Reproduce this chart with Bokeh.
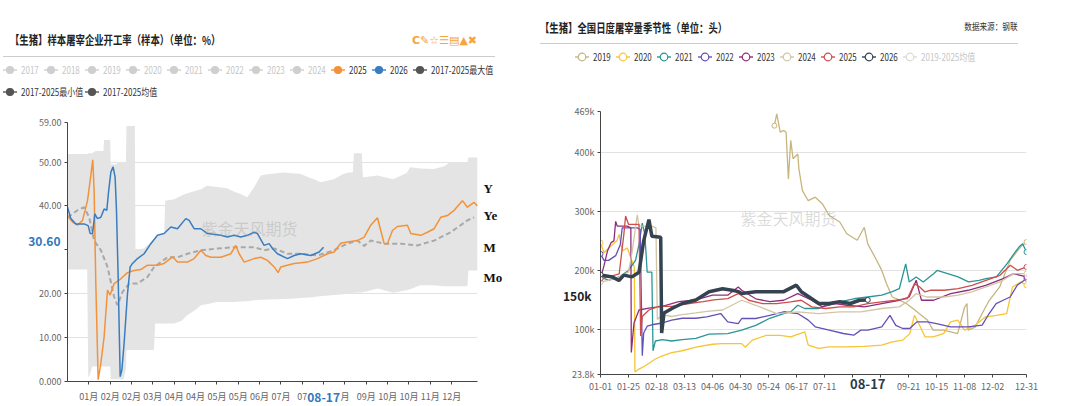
from bokeh.plotting import figure
from bokeh.layouts import row, column
from bokeh.models import Range1d, FixedTicker, Label, LinearAxis, Div
from bokeh.embed import file_html
from bokeh.resources import INLINE

FONT = "Noto Sans CJK SC"

# ---------------- left chart data (开工率 %) ----------------
L_TITLE = "【生猪】样本屠宰企业开工率（样本）（单位：%）"
L_TICK_DAYS = [19, 38, 57, 76, 95, 114, 133, 152, 171, 190, 209, 228, 247, 266, 285, 304, 323, 342]
L_TICK_LABELS = ["01月", "02月", "02月", "03月", "04月", "04月", "05月", "05月", "06月", "07月",
                 "07", "", "月", "09月", "10月", "10月", "11月", "12月"]
L_Y_TICKS = [0, 10, 20, 30, 40, 50, 59]
L_Y_LABELS = ["0.000", "10.00", "20.00", "", "40.00", "50.00", "59.00"]
L_CROSS_X = [228]
L_CROSS_X_LABEL = ["08-17"]
L_CROSS_Y = [31.8]
L_CROSS_Y_LABEL = ["30.60"]
L_SIDE_TAGS_Y = [44, 37.8, 30.6, 23.8]
L_SIDE_TAGS = ["Y", "Ye", "M", "Mo"]

L2025_D = [0, 4.5, 8.9, 13.4, 17.8, 20.2, 22.5, 23.7, 25.2, 27.3, 29.7, 32.6, 35.6, 38, 41.5, 47.5, 53.4, 59.3,
           65.3, 71.2, 80.1, 86, 93.5, 97.9, 106.8, 112.7, 118.7, 123.1, 127.6, 136.5, 145.4, 149.8, 152.8,
           157.3, 166.2, 172.1, 178, 184, 187.5, 189.9, 195.8, 201.8, 213.6, 222.5, 231.4, 237.4, 243.3, 249.2,
           258.1, 264.1, 270, 275.9, 278.9, 281.9, 284.8, 289.3, 293.7, 302.6, 305.6, 314.5, 320.4, 326.4,
           332.3, 338.2, 344.2, 351.6, 356, 362, 365]
L2025_V = [37.8, 36.3, 35.6, 36.7, 41.2, 45.8, 50.5, 43.5, 22.3, 0.4, 4.2, 10.2, 20.8, 19.7, 22.3, 23.4, 24.8,
           25.3, 25.5, 26.5, 26.5, 26.9, 28.4, 27.2, 27.2, 28, 29.9, 28.7, 28.3, 28.3, 29.1, 31, 29.1, 27.2, 28,
           28.3, 27.6, 26.1, 24.8, 26.1, 26.5, 26.9, 27.2, 28, 29.1, 29.5, 31.5, 31.8, 32.1, 32.9, 35.6, 37.3,
           34.4, 31.4, 31.4, 34.4, 35.3, 35.6, 33.7, 33.3, 34, 34.8, 37.4, 37.8, 39, 41.2, 39.7, 40.8, 40]

L2026_D = [0, 3, 7.4, 14.8, 18.4, 20.2, 22.3, 24.3, 26.7, 29.7, 32.6, 35, 36.5, 38.6, 40.6, 42.4, 43.6, 45.1,
           46.9, 48.4, 50.4, 53.4, 55.8, 57.9, 62.3, 68.2, 74.2, 80.1, 86, 92, 97.9, 105.3, 108.3, 112.7, 118.7,
           124.6, 136.5, 142.4, 148.3, 154.3, 160.2, 166.2, 169.1, 175, 179.5, 182.5, 186.9, 195.8, 201.8,
           207.7, 216.6, 224, 228]
L2026_V = [39.7, 37.1, 35.9, 35.9, 35.5, 33.7, 33.7, 38.2, 37.1, 37.4, 39.3, 39, 43.1, 47.7, 48.9, 46.5, 39,
           23.8, 1.1, 2.6, 8.7, 20, 26.1, 26.9, 28, 29.1, 31.4, 33.3, 33.7, 35.2, 34.8, 37.1, 36.7, 34.8, 34.8,
           33.7, 33.3, 32.9, 33.3, 32.9, 33.3, 34, 33.7, 31, 31.4, 30.3, 29.1, 28, 28.7, 29.1, 28.7, 29.5, 30.6]

LAVG_D = [0, 8.9, 14.8, 19.3, 23.7, 29.7, 35.6, 41.5, 44.5, 49, 54.9, 62.3, 71.2, 77.1, 83.1, 89, 97.9, 106.8,
          118.7, 133.5, 148.3, 166.2, 175, 184, 195.8, 207.7, 222.5, 237.4, 249.2, 258.1, 264.1, 270, 281.9,
          296.7, 311.5, 326.4, 341.2, 356, 362]
LAVG_V = [37.4, 39, 39.7, 37.4, 32.1, 29.9, 26.1, 19.3, 17.4, 20.4, 22.3, 22.3, 23.8, 26.1, 27.2, 28.3, 28.3,
          29.1, 29.9, 30.3, 30.6, 30.6, 29.9, 30.3, 29.1, 29.1, 28.7, 29.9, 31.4, 32.1, 30.9, 32.1, 31.4, 31.4,
          31, 32.1, 34, 36.7, 37.4]

LBAND_D = [0, 17.5, 18.5, 19.3, 22, 25, 32, 32.5, 38, 38.5, 44, 44.5, 50, 52, 52.5, 60, 60.5, 68, 77, 78,
           86, 87, 95, 102, 106, 115, 119, 124, 133, 142, 148, 154, 160, 166, 172, 178, 193, 202, 207, 219,
           220, 225, 237, 246, 249, 250, 254, 255, 262, 263, 264, 276, 290, 302, 305, 314, 326, 335, 341, 355,
           356, 357, 365]
LBAND_MAX = [51.8, 51.8, 52, 52, 52, 52.5, 52.5, 55, 55, 49.5, 49.5, 50, 50, 50, 58.2, 58.2, 30, 30.3, 32.5,
             32.9, 33.5, 41.2, 41.5, 42.4, 42.8, 43.5, 43.8, 44.6, 44.3, 44, 43.3, 42.7, 42, 44.2, 46.9, 47.2,
             47.6, 47.4, 47.3, 46.1, 46, 45.4, 46.1, 47.3, 47.5, 47.6, 47.6, 52, 52, 46.5, 46.5, 46.9, 46.1,
             47.5, 48.8, 48.5, 48.4, 49, 50, 50, 50, 51, 51]
LBAND_MIN = [25.5, 25.5, 1.1, 1.1, 3.4, 3.4, 3.4, 3.4, 3.4, 0.5, 0.5, 0.5, 0.5, 3, 7.2, 7.2, 7.2, 7.2, 7.2,
             13.2, 13.2, 13.2, 13.2, 13.9, 15, 16.5, 17.4, 17.6, 18.1, 18.1, 18.1, 18.2, 18.3, 18.5, 18.6,
             18.7, 18.8, 18.9, 19, 19.2, 19.3, 19.4, 19.7, 19.9, 20, 20, 20.1, 20.2, 20.3, 20.4, 20.4, 21.2,
             20.2, 20.8, 21, 21.9, 21.9, 21.7, 21.7, 21.7, 21.7, 25.3, 25.3]

L_LEGEND_ROW1 = [("2017", "#cfcfcf", False), ("2018", "#cfcfcf", False), ("2019", "#cfcfcf", False),
                 ("2020", "#cfcfcf", False), ("2021", "#cfcfcf", False), ("2022", "#cfcfcf", False),
                 ("2023", "#cfcfcf", False), ("2024", "#cfcfcf", False), ("2025", "#f3923a", True),
                 ("2026", "#3a7cc0", True), ("2017-2025最大值", "#555555", True)]
L_LEGEND_ROW2 = [("2017-2025最小值", "#555555", True), ("2017-2025均值", "#555555", True)]

# ---------------- right chart data (日度屠宰量, 千头) ----------------
R_TITLE = "【生猪】全国日度屠宰量季节性（单位：头）"
R_SOURCE = "数据来源：钢联"
R_TICK_DAYS = [0, 24, 48, 72, 96, 120, 144, 168, 192, 216, 240, 264, 288, 312, 336, 365]
R_TICK_LABELS = ["01-01", "01-25", "02-18", "03-13", "04-06", "04-30", "05-24", "06-17", "07-11",
                 "", "", "09-21", "10-15", "11-08", "12-02", "12-31"]
R_Y_TICKS = [23.8, 100, 200, 300, 400, 469]
R_Y_LABELS = ["23.8k", "100k", "200k", "300k", "400k", "469k"]
R_CROSS_X = [229]
R_CROSS_X_LABEL = ["08-17"]
R_CROSS_Y = [158]
R_CROSS_Y_LABEL = ["150k"]

R2019_D = [149, 151, 154, 157, 159, 161, 163, 165, 169, 170, 173, 178, 184, 190, 196, 205, 211, 220, 226, 229,
           235, 241, 245, 250, 256, 262, 268, 273, 280, 285, 294, 300, 306, 312, 314, 315, 321, 327, 333, 342,
           351, 360, 365]
R2019_V = [445, 465, 434, 437, 434, 355, 420, 389, 397, 372, 335, 318, 324, 313, 293, 282, 262, 251, 273, 245,
           223, 200, 178, 155, 150, 144, 135, 127, 116, 99, 99, 96, 93, 138, 144, 99, 104, 127, 149, 172,
           217, 240, 248]
R2020_D = [0, 3, 7, 12, 14, 16, 18.6, 23, 26, 29, 29.5, 33, 38.7, 47, 53, 61, 70, 81.7, 96, 104, 109, 118, 121,
           124, 130, 142, 154, 163, 175, 178, 187, 196, 211, 226, 241, 250, 259, 265, 269, 274, 278, 285, 294,
           300, 306, 312, 321, 330, 339, 348, 353, 360, 365]
R2020_V = [247, 230, 238, 247, 250, 261, 233, 238, 221, 205, 28, 33, 39, 50, 55.5, 61, 64, 70, 75, 76, 76, 76,
           76, 70, 82, 90, 90, 87.6, 96, 73.6, 68, 70.7, 70.7, 71.5, 73.6, 79, 82, 93, 124, 104.5, 87.6, 87.6,
           93, 113, 115.8, 99, 107, 121.4, 124, 127, 172, 180.5, 174.8]
R2021_D = [0, 7, 16, 24, 30, 33, 35.8, 38, 40, 44, 45, 47, 53, 61, 70, 81.7, 93, 109, 121, 133, 145, 157, 163,
           169, 175, 187, 196, 205, 217, 229, 241, 250, 256, 261.5, 264.5, 270.5, 276.5, 285.4, 288.4, 297.4,
           306.4, 315.3, 324.3, 330.3, 339.2, 348.2, 354.2, 358.7, 361.7, 365]
R2021_V = [189, 183, 189, 200, 217, 244, 280, 261, 197, 197, 64, 80.5, 83, 80.5, 83, 85, 92, 93, 99, 107, 119,
           127, 129.8, 141, 135.5, 135.5, 144, 146.7, 152, 155, 158, 164, 169, 211, 180.5, 189, 180.5, 194.5,
           200, 194.5, 189, 180.5, 183.3, 186.1, 189, 211, 228, 240, 245, 231]
R2022_D = [0, 3, 7, 13, 17, 18.6, 24, 31.5, 34, 35.8, 37, 40, 44, 53, 61, 70, 81.7, 91, 103, 109, 118, 121, 133,
           145, 157, 169, 178, 184, 196, 208, 217, 223, 229, 241, 248, 253, 259, 265, 271, 280, 288, 300, 315,
           327, 333, 339, 345, 351, 357, 365]
R2022_V = [228, 217, 217, 225, 244, 272, 272, 272, 269, 55.5, 94, 105.5, 108, 111, 116, 119, 119, 121.4, 127,
           112.9, 110.1, 118.6, 118.6, 124, 130, 127, 115.8, 104.5, 98.9, 93.2, 90.4, 98.9, 98.9, 104.5, 124,
           107, 101.7, 101.7, 112.9, 112.9, 110.1, 104.5, 104.5, 107.3, 127, 143.9, 149.5, 155, 174.8, 186]
R2023_D = [0, 3, 6, 9, 11.5, 13, 14.3, 18.6, 23, 26, 26.4, 28.7, 33, 41.5, 53, 67, 81.7, 96, 109, 118, 121, 133,
           145, 157, 169, 181, 190, 201, 211, 226, 241, 256, 264.5, 270.5, 275, 285.4, 300, 315, 330, 345,
           354, 365]
R2023_V = [186, 208, 233, 247, 250, 283, 275, 275, 275, 272, 61, 111, 133, 136, 139, 147, 150, 158, 158, 172,
           166.4, 152, 147, 149.5, 160.8, 149.5, 138.3, 143.9, 141, 138.3, 143.9, 149.5, 155, 183.3, 149.5,
           149.5, 160.8, 166.4, 174.8, 186.1, 194.5, 188.9]
R2024_D = [0, 7, 16, 24, 27, 31.5, 33, 44, 47.5, 48.7, 53, 61, 70, 81.7, 93, 104.6, 121, 133, 151, 169, 187, 205,
           223, 241, 256, 264.5, 270.5, 279.5, 294.4, 306.4, 318.3, 330.3, 342.2, 354.2, 365]
R2024_V = [180, 183, 189, 197, 230, 294, 275, 275, 272, 117, 125, 122, 125, 128, 131, 133, 149.5, 141, 127,
           129.8, 127, 129.8, 129.8, 135.5, 138.3, 149.5, 160.8, 155, 155, 158, 163.6, 172, 180.5, 194.5, 194.5]
R2025_D = [0, 7, 16, 20, 21.5, 24, 33, 34.4, 35.8, 41.5, 50, 61, 76, 88, 97, 109, 118, 127, 139, 151, 163, 172,
           181, 193, 205, 217, 229, 241, 253, 263, 269, 273.5, 278, 282.5, 294.4, 306.4, 318.3, 330.3, 342.2,
           351.2, 357.2, 365]
R2025_V = [186, 189, 194, 261, 292, 278, 278, 89, 122, 133, 139, 139, 144, 147, 150, 152.3, 160.8, 149.5,
           143.9, 143.9, 146.7, 149.5, 138.3, 135.5, 138.3, 138.3, 143.9, 146.7, 149.5, 152.3, 177.7, 172,
           163.6, 166.4, 166.4, 169.2, 174.8, 183.3, 191.7, 208.6, 200.2, 205.8]
R2026_D = [0, 1.4, 10, 15.8, 20, 27, 33, 37, 41.5, 44, 51.6, 52.4, 54.4, 61.6, 70, 81.7, 93, 104.6, 114, 118,
           121, 133, 145, 157, 167.8, 172, 181, 187, 196, 205, 214, 222, 229]
R2026_V = [193, 192, 189, 183, 192, 189, 197, 250, 286, 258, 256, 94, 128, 136, 144, 150, 164, 169, 166, 164,
           161, 164, 164, 164, 175, 164, 152, 144, 144, 147, 144, 149.5, 150]

R_SERIES = [("2019", "#c6b57e", R2019_D, R2019_V, 1.3),
            ("2020", "#f7c433", R2020_D, R2020_V, 1.3),
            ("2021", "#2a9595", R2021_D, R2021_V, 1.3),
            ("2022", "#6450b8", R2022_D, R2022_V, 1.3),
            ("2023", "#8f2f7c", R2023_D, R2023_V, 1.3),
            ("2024", "#d2c5a6", R2024_D, R2024_V, 1.3),
            ("2025", "#cd4e4c", R2025_D, R2025_V, 1.3),
            ("2026", "#35424f", R2026_D, R2026_V, 3.5)]
R_LEGEND = [(n, c, True) for n, c, _, _, _ in R_SERIES] + [("2019-2025均值", "#dadada", False)]


# ---------------- header (HTML) helpers ----------------
def txt(x, cy, s, size, color, bold=False, scale=0.8, anchor="left", family=FONT):
    origin = "left center" if anchor == "left" else "right center"
    pos = f"left:{x}px;" if anchor == "left" else f"right:{x}px;"
    return (f'<span style="position:absolute;{pos}top:{cy}px;transform:translateY(-50%) scaleX({scale});'
            f'transform-origin:{origin};font-family:\'{family}\',sans-serif;font-size:{size}px;'
            f'font-weight:{"bold" if bold else "normal"};color:{color};white-space:nowrap;line-height:1;">{s}</span>')


def legend_item(x0, cy, label, color, active, filled):
    fill = color if filled else "white"
    r = 3.5 if filled else 3.8
    glyph = (f'<svg width="14" height="10" style="position:absolute;left:{x0}px;top:{cy - 5}px;overflow:visible">'
             f'<line x1="0" y1="5" x2="14" y2="5" stroke="{color}" stroke-width="1.4"/>'
             f'<circle cx="7" cy="5" r="{r}" fill="{fill}" stroke="{color}" stroke-width="1.2"/></svg>')
    tcolor = "#333" if active else "#c6c6c6"
    return glyph + txt(x0 + 18, cy, label, 10, tcolor, scale=0.8)


def header_div(w, h, parts):
    html = (f'<div style="position:relative;width:{w}px;height:{h}px;overflow:hidden;background:white;">'
            + "".join(parts) + '</div>')
    return Div(text=html, width=w, height=h, margin=0)


PITCH = 41
lparts = [txt(10, 40, L_TITLE, 12, "#222", bold=True, scale=0.78),
          txt(412, 40, "C✎☆☰▤▲✖", 11, "#f5a53a", bold=True, scale=1.0, family="DejaVu Sans"),
          '<div style="position:absolute;left:3px;top:56px;width:492px;height:0;border-top:1.5px solid #cccccc;"></div>']
for i, (lab, col, act) in enumerate(L_LEGEND_ROW1):
    lparts.append(legend_item(3 + PITCH * i, 70, lab, col, act, True))
for i, (lab, col, act) in enumerate(L_LEGEND_ROW2):
    lparts.append(legend_item(3 + 82 * i, 92, lab, col, act, True))
ldiv = header_div(530, 106, lparts)

rparts = [txt(10, 28, R_TITLE, 12, "#222", bold=True, scale=0.78),
          txt(62, 27, R_SOURCE, 9.5, "#333", scale=0.8, anchor="right"),
          '<div style="position:absolute;left:10px;top:43px;width:478px;height:0;border-top:1.5px solid #cccccc;"></div>']
for i, (lab, col, act) in enumerate(R_LEGEND):
    rparts.append(legend_item(45 + PITCH * i, 57, lab, col, act, False))
rdiv = header_div(550, 96, rparts)


# ---------------- chart helpers ----------------
def style_chart(p, standoff_x):
    p.outline_line_color = None
    p.xgrid.visible = False
    p.ygrid.grid_line_color = "#e2e2e2"
    p.axis.axis_line_color = "#444"
    p.axis.major_tick_line_color = "#444"
    p.axis.minor_tick_line_color = None
    p.axis.major_tick_out = 3
    p.axis.major_tick_in = 0
    p.yaxis.major_label_standoff = 3
    p.xaxis.major_label_standoff = standoff_x
    p.axis.major_label_text_color = "#666"
    p.axis.major_label_text_font = FONT
    p.axis.major_label_text_font_size = "9px"


def tag_axis(ticks, labels, color, size, standoff, font=FONT, style="bold"):
    ax = LinearAxis(ticker=FixedTicker(ticks=ticks), major_label_overrides=dict(zip(ticks, labels)))
    ax.axis_line_color = None
    ax.major_tick_line_color = None
    ax.minor_tick_line_color = None
    ax.major_tick_out = 0
    ax.major_tick_in = 0
    ax.minor_tick_out = 0
    ax.minor_tick_in = 0
    ax.major_label_standoff = standoff
    ax.major_label_text_color = color
    ax.major_label_text_font = font
    ax.major_label_text_font_size = size
    ax.major_label_text_font_style = style
    return ax


# ---------------- left chart ----------------
lc = figure(width=530, height=299, x_range=Range1d(0, 365), y_range=Range1d(0, 59),
            output_backend="svg", toolbar_location=None,
            min_border_left=67, min_border_right=53, min_border_top=16, min_border_bottom=23)
style_chart(lc, 5)
lc.xaxis.ticker = FixedTicker(ticks=L_TICK_DAYS)
lc.xaxis.major_label_overrides = dict(zip(L_TICK_DAYS, L_TICK_LABELS))
lc.yaxis.ticker = FixedTicker(ticks=L_Y_TICKS)
lc.yaxis.major_label_overrides = dict(zip(L_Y_TICKS, L_Y_LABELS))
lc.ygrid.ticker = FixedTicker(ticks=L_Y_TICKS)

lc.varea(x=LBAND_D, y1=LBAND_MIN, y2=LBAND_MAX, fill_color="#e4e4e4")
lc.line(LAVG_D, LAVG_V, line_color="#a8a8a8", line_width=2, line_dash="5 3")
lc.line(L2025_D, L2025_V, line_color="#f3923a", line_width=1.5)
lc.line(L2026_D, L2026_V, line_color="#3a7cc0", line_width=1.5)
lc.add_layout(Label(x=162, y=34.9, text="紫金天风期货", text_font=FONT, text_font_size="16px",
                    text_color="#999", text_alpha=0.35, text_align="center", text_baseline="middle"))

lc.add_layout(tag_axis(L_CROSS_X, L_CROSS_X_LABEL, "#2f79c0", "12px", -13), "below")
lc.add_layout(tag_axis(L_CROSS_Y, L_CROSS_Y_LABEL, "#2f79c0", "12px", -24), "left")
lc.add_layout(tag_axis(L_SIDE_TAGS_Y, L_SIDE_TAGS, "#111", "13px", 6, font="Liberation Serif"), "right")

# ---------------- right chart ----------------
rc = figure(width=550, height=309, x_range=Range1d(0, 365), y_range=Range1d(23.8, 469),
            output_backend="svg", toolbar_location=None,
            min_border_left=70, min_border_right=54, min_border_top=15, min_border_bottom=31)
style_chart(rc, 5)
rc.xaxis.ticker = FixedTicker(ticks=R_TICK_DAYS)
rc.xaxis.major_label_overrides = dict(zip(R_TICK_DAYS, R_TICK_LABELS))
rc.yaxis.ticker = FixedTicker(ticks=R_Y_TICKS)
rc.yaxis.major_label_overrides = dict(zip(R_Y_TICKS, R_Y_LABELS))
rc.ygrid.ticker = FixedTicker(ticks=R_Y_TICKS)

for name, color, d, v, w in R_SERIES:
    rc.line(d, v, line_color=color, line_width=w)
    rc.scatter([d[0], d[-1]], [v[0], v[-1]], marker="circle", size=5, line_color=color,
               fill_color="white", line_width=1)
rc.add_layout(Label(x=161, y=288, text="紫金天风期货", text_font=FONT, text_font_size="16px",
                    text_color="#999", text_alpha=0.35, text_align="center", text_baseline="middle"))

rc.add_layout(tag_axis(R_CROSS_X, R_CROSS_X_LABEL, "#2c3a48", "13px", -14), "below")
rc.add_layout(tag_axis(R_CROSS_Y, R_CROSS_Y_LABEL, "#222", "12px", -22), "left")

layout = row(column(ldiv, lc, spacing=0), column(rdiv, rc, spacing=0), spacing=0)
open("out.html", "w").write(file_html(layout, INLINE))
